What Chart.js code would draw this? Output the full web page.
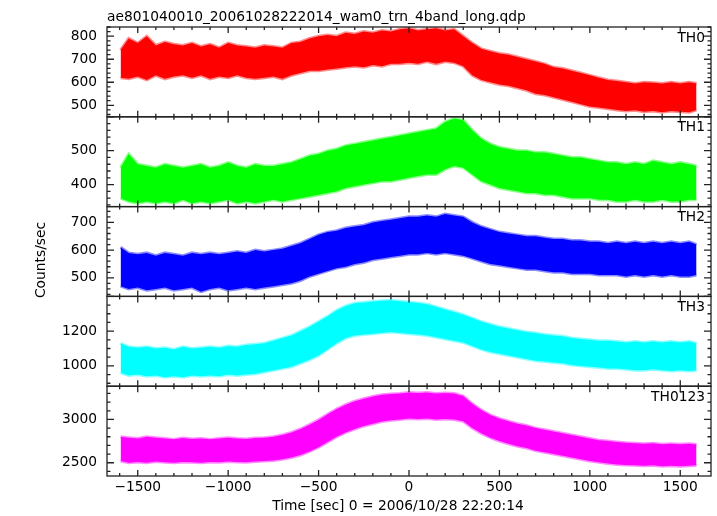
<!DOCTYPE html>
<html>
<head>
<meta charset="utf-8">
<script src="https://cdn.jsdelivr.net/npm/chart.js@4.4.0/dist/chart.umd.min.js"></script>
<style>
  html, body { margin: 0; padding: 0; background: #fff; }
</style>
</head>
<body>
<canvas id="lc" width="717" height="516"></canvas>
<script>
const plotTitle = 'ae801040010_20061028222014_wam0_trn_4band_long.qdp';
const xTitle = 'Time [sec] 0 = 2006/10/28 22:20:14';
const yTitle = 'Counts/sec';

// time grid (sec), upper/lower envelope of each light curve
const times = [-1595, -1550, -1500, -1450, -1400, -1350, -1300, -1250, -1200, -1150,
  -1100, -1050, -1000, -950, -900, -850, -800, -750, -700, -650,
  -600, -550, -500, -450, -400, -350, -300, -250, -200, -150,
  -100, -50, 0, 50, 100, 150, 200, 250, 300, 350,
  400, 450, 500, 550, 600, 650, 700, 750, 800, 850,
  900, 950, 1000, 1050, 1100, 1150, 1200, 1250, 1300, 1350,
  1400, 1450, 1500, 1550, 1590];

const th0Hi = [740, 790, 770, 800, 760, 775, 765, 760, 770, 755,
  765, 750, 770, 760, 755, 750, 760, 755, 750, 770,
  775, 790, 800, 805, 800, 815, 810, 820, 815, 825,
  820, 830, 835, 825, 830, 835, 825, 830, 800, 770,
  745, 735, 725, 720, 710, 700, 690, 680, 665, 660,
  650, 640, 630, 620, 610, 605, 600, 595, 600, 598,
  595, 600, 595, 600, 595];
const th0Lo = [620, 615, 625, 610, 630, 615, 625, 630, 620, 630,
  615, 625, 620, 630, 620, 615, 620, 625, 615, 630,
  640, 650, 650, 655, 660, 665, 670, 665, 675, 670,
  680, 680, 685, 680, 690, 680, 690, 685, 670, 630,
  610, 600, 590, 585, 575, 565, 550, 545, 535, 525,
  515, 505, 495, 490, 485, 480, 475, 478, 472, 475,
  470, 475, 472, 470, 480];

const th1Hi = [450, 490, 460, 455, 450, 460, 455, 450, 455, 460,
  450, 455, 465, 455, 450, 460, 455, 455, 460, 465,
  475, 485, 490, 500, 505, 515, 520, 525, 530, 535,
  540, 545, 550, 555, 560, 565, 585, 595, 590, 560,
  535, 520, 510, 505, 500, 500, 495, 495, 490, 485,
  480, 480, 475, 470, 465, 465, 460, 465, 460, 470,
  465, 460, 465, 460, 455];
const th1Lo = [360, 350, 345, 350, 345, 350, 345, 355, 345, 350,
  345, 350, 355, 345, 350, 345, 350, 355, 350, 355,
  360, 365, 370, 375, 380, 390, 395, 400, 405, 410,
  410, 415, 420, 425, 430, 430, 445, 455, 450, 430,
  410, 400, 390, 385, 380, 375, 375, 370, 370, 365,
  360, 360, 360, 355, 355, 350, 350, 355, 350, 350,
  355, 350, 350, 355, 355];

const th2Hi = [610, 590, 585, 590, 580, 590, 585, 580, 590, 585,
  590, 585, 590, 595, 590, 600, 595, 600, 605, 615,
  625, 640, 655, 665, 670, 680, 685, 690, 700, 705,
  710, 715, 720, 720, 725, 720, 730, 725, 720, 700,
  685, 675, 665, 660, 655, 650, 650, 645, 640, 640,
  635, 635, 630, 630, 625, 630, 625, 630, 625, 630,
  625, 630, 625, 630, 620];
const th2Lo = [470, 460, 465, 455, 460, 465, 455, 460, 465, 450,
  460, 465, 455, 460, 465, 460, 465, 470, 475, 480,
  490, 505, 515, 525, 535, 540, 550, 555, 565, 570,
  575, 580, 585, 585, 590, 585, 590, 585, 580, 570,
  560, 550, 545, 540, 535, 530, 530, 525, 520, 520,
  515, 515, 515, 510, 510, 510, 505, 510, 505, 510,
  505, 510, 505, 505, 510];

const th3Hi = [1130, 1110, 1105, 1110, 1100, 1105, 1095, 1110, 1100, 1105,
  1110, 1105, 1115, 1110, 1120, 1125, 1130, 1145, 1160, 1175,
  1200, 1225, 1255, 1285, 1320, 1345, 1360, 1365, 1370, 1375,
  1378, 1372, 1368, 1362, 1355, 1340, 1325, 1310, 1295, 1275,
  1255, 1240, 1225, 1215, 1205, 1195, 1190, 1180, 1175, 1170,
  1160, 1155, 1150, 1145, 1145, 1140, 1135, 1140, 1135, 1140,
  1135, 1140, 1135, 1140, 1130];
const th3Lo = [960, 945, 950, 940, 945, 935, 940, 935, 945, 940,
  945, 940, 950, 945, 950, 955, 965, 975, 985, 995,
  1015, 1035, 1060, 1095, 1130, 1160, 1175, 1180, 1185, 1190,
  1195, 1190, 1185, 1180, 1175, 1165, 1155, 1145, 1135, 1115,
  1095, 1080, 1070, 1060, 1050, 1040, 1030, 1025, 1020, 1015,
  1005, 1000, 995, 990, 985, 985, 980, 975, 975, 980,
  975, 970, 975, 970, 975];

const th0123Hi = [2800, 2790, 2780, 2800, 2790, 2780, 2770, 2785, 2775, 2780,
  2770, 2780, 2790, 2780, 2775, 2785, 2790, 2800, 2820, 2850,
  2890, 2940, 2995, 3060, 3120, 3170, 3210, 3240, 3265, 3285,
  3295, 3300, 3310, 3305, 3310, 3300, 3305, 3300, 3270, 3180,
  3110, 3050, 3010, 2980, 2950, 2930, 2900, 2880, 2860, 2840,
  2820, 2800, 2780, 2760, 2750, 2740, 2730, 2725, 2720, 2725,
  2715, 2720, 2715, 2720, 2710];
const th0123Lo = [2520, 2500, 2510, 2500, 2515, 2505, 2500, 2510, 2505, 2500,
  2510, 2505, 2515, 2510, 2505, 2515, 2520, 2525, 2540, 2560,
  2590, 2630, 2680, 2740, 2800, 2850, 2890, 2925, 2950, 2975,
  2990, 3000, 3010, 3005, 3010, 3000, 3005, 3000, 2980, 2900,
  2840, 2790, 2750, 2720, 2690, 2670, 2640, 2620, 2600, 2580,
  2560, 2540, 2520, 2505, 2490, 2480, 2475, 2470, 2465, 2470,
  2460, 2465, 2460, 2465, 2470];

// tick labels
const xTicks = [-1500, -1000, -500, 0, 500, 1000, 1500];
const th0Ticks = [500, 600, 700, 800];
const th1Ticks = [400, 500];
const th2Ticks = [500, 600, 700];
const th3Ticks = [1000, 1200];
const th0123Ticks = [2500, 3000];

const FONT = 'DejaVu Sans';
const FSIZE = 13.8;

// listed bottom panel first: chart.js puts the last stacked scale on top
const panels = [
  { id: 'y4', name: 'TH0123', color: '#ff00ff', hi: th0123Hi, lo: th0123Lo, ticks: th0123Ticks, min: 2347, max: 3384, major: 500, minor: 100 },
  { id: 'y3', name: 'TH3', color: '#00ffff', hi: th3Hi, lo: th3Lo, ticks: th3Ticks, min: 883, max: 1400, major: 200, minor: 50 },
  { id: 'y2', name: 'TH2', color: '#0000ff', hi: th2Hi, lo: th2Lo, ticks: th2Ticks, min: 433, max: 757, major: 100, minor: 20 },
  { id: 'y1', name: 'TH1', color: '#00ff00', hi: th1Hi, lo: th1Lo, ticks: th1Ticks, min: 335, max: 600, major: 100, minor: 20 },
  { id: 'y0', name: 'TH0', color: '#ff0000', hi: th0Hi, lo: th0Lo, ticks: th0Ticks, min: 450, max: 840, major: 100, minor: 20 }
];

function fade(hex) {
  const n = parseInt(hex.slice(1), 16);
  return `rgba(${n >> 16}, ${(n >> 8) & 255}, ${n & 255}, 0.45)`;
}

const datasets = [];
panels.forEach(p => {
  datasets.push({
    data: times.map((t, i) => ({ x: t, y: p.hi[i] })),
    yAxisID: p.id,
    borderColor: fade(p.color),
    backgroundColor: p.color,
    borderWidth: 3,
    pointRadius: 0,
    tension: 0,
    fill: '+1'
  });
  datasets.push({
    data: times.map((t, i) => ({ x: t, y: p.lo[i] })),
    yAxisID: p.id,
    borderColor: fade(p.color),
    borderWidth: 3,
    pointRadius: 0,
    tension: 0,
    fill: false
  });
});

const scales = {
  x: {
    type: 'linear',
    min: -1670,
    max: 1670,
    grid: { display: false, drawTicks: false },
    border: { display: false },
    afterBuildTicks: s => { s.ticks = xTicks.map(v => ({ value: v })); },
    afterFit: s => { s.height = 40; },
    ticks: {
      color: '#000',
      font: { family: FONT, size: FSIZE },
      padding: 3,
      maxRotation: 0,
      autoSkip: false,
      callback: v => String(v).replace('-', '\u2212')
    }
  }
};
panels.forEach(p => {
  scales[p.id] = {
    type: 'linear',
    position: 'left',
    stack: 'panels',
    stackWeight: 1,
    min: p.min,
    max: p.max,
    grid: { display: false, drawTicks: false },
    border: { display: false },
    afterBuildTicks: s => { s.ticks = p.ticks.map(v => ({ value: v })); },
    afterFit: s => { s.width = 107; },
    ticks: {
      color: '#000',
      font: { family: FONT, size: FSIZE },
      padding: 10,
      autoSkip: false,
      callback: v => String(v)
    }
  };
});

const framePlugin = {
  id: 'qdpFrame',
  afterDatasetsDraw(chart) {
    const ctx = chart.ctx;
    const area = chart.chartArea;
    const xs = chart.scales.x;
    ctx.save();
    ctx.strokeStyle = '#222';
    ctx.fillStyle = '#000';
    ctx.lineWidth = 1.3;
    ctx.font = `${FSIZE}px "${FONT}"`;
    panels.forEach(p => {
      const s = chart.scales[p.id];
      const top = s.top, bot = s.bottom;
      ctx.strokeRect(area.left, top, area.right - area.left, bot - top);
      ctx.beginPath();
      for (let v = -1600; v <= 1600; v += 100) {
        const x = xs.getPixelForValue(v);
        const len = v % 500 === 0 ? 6 : 3;
        ctx.moveTo(x, top); ctx.lineTo(x, top + len);
        ctx.moveTo(x, bot); ctx.lineTo(x, bot - len);
      }
      for (let v = Math.ceil(p.min / p.minor) * p.minor; v <= p.max; v += p.minor) {
        const y = s.getPixelForValue(v);
        const len = v % p.major === 0 ? 7 : 3.5;
        ctx.moveTo(area.left, y); ctx.lineTo(area.left + len, y);
        ctx.moveTo(area.right, y); ctx.lineTo(area.right - len, y);
      }
      ctx.stroke();
      ctx.textAlign = 'right';
      ctx.textBaseline = 'middle';
      ctx.fillText(p.name, area.right - 6, top + 11);
    });
    ctx.textAlign = 'left';
    ctx.textBaseline = 'alphabetic';
    ctx.fillText(plotTitle, area.left, 20.5);
    ctx.textAlign = 'center';
    ctx.textBaseline = 'middle';
    ctx.fillText(xTitle, 398, 506);
    ctx.translate(41, 260);
    ctx.rotate(-Math.PI / 2);
    ctx.fillText(yTitle, 0, 0);
    ctx.restore();
  }
};

new Chart(document.getElementById('lc').getContext('2d'), {
  type: 'line',
  data: { datasets },
  options: {
    responsive: false,
    animation: false,
    layout: { padding: { top: 27, right: 6, left: 0, bottom: 0 } },
    plugins: { legend: { display: false }, tooltip: { enabled: false } },
    scales
  },
  plugins: [framePlugin]
});
</script>
</body>
</html>
